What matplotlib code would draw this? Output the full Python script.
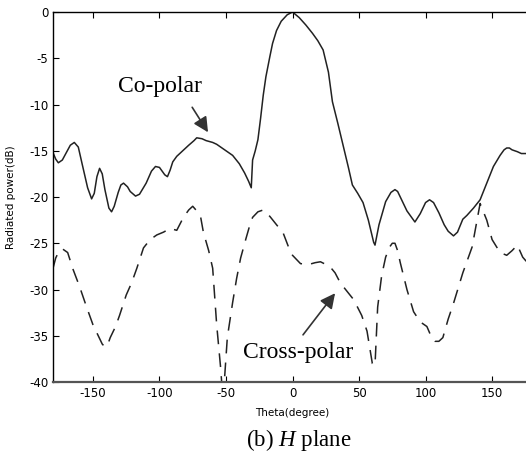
import numpy as np
import matplotlib
matplotlib.use("Agg")
import matplotlib.pyplot as plt

plt.rcParams["axes.unicode_minus"] = False
plt.rcParams["mathtext.fontset"] = "custom"
plt.rcParams["mathtext.rm"] = "Liberation Serif"
plt.rcParams["mathtext.it"] = "Liberation Serif:italic"

# co-polar trace (degree, dB)
co_theta = [-180, -178, -176, -173, -170, -167, -164, -161, -158, -154, -151, -149, -147, -145, -143,
            -141, -138, -136, -134, -131, -129, -127, -124, -122, -118, -115, -110, -106, -103, -100,
            -98, -96, -94, -92, -90, -87, -84, -78, -74, -72, -68, -65, -60, -57, -53, -50, -45, -40,
            -36, -33, -31, -30, -28, -26, -24, -22, -20, -17, -15, -12, -8.5, -4, 0, 5, 10, 15, 19, 23, 27,
            30, 34, 38, 42, 45, 49, 53, 57, 61, 62, 65, 70, 74, 77, 79, 81, 86, 92, 96, 100, 103,
            106, 110, 114, 117, 121, 124, 128, 131, 136, 141, 146, 151, 156, 159, 161, 163, 165, 169, 172, 176]
co_db = [-15.2, -15.9, -16.3, -16.0, -15.2, -14.4, -14.1, -14.6, -16.5, -19.0, -20.2, -19.6, -17.8, -16.9, -17.5,
         -19.2, -21.2, -21.6, -21.0, -19.5, -18.7, -18.5, -18.9, -19.4, -19.9, -19.7, -18.5, -17.2, -16.7, -16.8,
         -17.2, -17.6, -17.8, -17.1, -16.2, -15.6, -15.2, -14.4, -13.9, -13.6, -13.7, -13.9, -14.1, -14.3, -14.7, -15.0, -15.5, -16.4,
         -17.4, -18.3, -19.0, -16.0, -15.0, -13.8, -11.5, -9.0, -7.0, -4.8, -3.4, -2.0, -1.0, -0.3, 0.0, -0.6, -1.4, -2.3, -3.1, -4.1, -6.5,
         -9.7, -12.0, -14.4, -16.8, -18.7, -19.6, -20.6, -22.5, -24.9, -25.2, -23.0, -20.5, -19.5, -19.2, -19.4, -20.0, -21.5, -22.7, -21.8, -20.6, -20.3,
         -20.6, -21.7, -23.0, -23.7, -24.2, -23.8, -22.4, -22.0, -21.2, -20.3, -18.5, -16.7, -15.5, -14.9, -14.7, -14.7, -14.9, -15.1, -15.3, -15.3]

# cross-polar trace (degree, dB)
cx_theta = [-180, -178, -176, -173, -169, -165, -160, -155, -150, -145, -143, -141, -139, -137, -133, -130, -125,
            -121, -117, -112, -107, -102, -97, -92, -87, -82, -78, -75, -72, -69, -67, -63,
            -60, -57, -54, -53, -51.5, -49, -45, -42, -39, -35, -32, -30, -26, -22, -17, -12,
            -7, -3, 0, 6, 12, 17, 21, 28, 32, 36, 41, 46, 52, 56, 60, 62, 64, 67, 70,
            73, 75, 77, 79, 81, 86, 91, 96, 101, 104, 107, 110, 113, 117, 121, 128, 135, 141, 146, 150, 156,
            161, 165, 169, 173, 176]
cx_db = [-27.7, -26.6, -26.0, -25.6, -26.0, -27.8, -29.7, -31.8, -33.8, -35.3, -35.9, -36.2, -36.0, -35.2, -34.0, -32.8, -30.6,
         -29.3, -27.7, -25.5, -24.6, -24.1, -23.8, -23.4, -23.6, -22.2, -21.4, -21.0, -21.5, -22.2, -23.8, -25.8,
         -27.7, -33.8, -38.5, -40.5, -40.5, -35.2, -31.4, -28.8, -26.6, -24.5, -23.0, -22.2, -21.6, -21.4, -22.1, -23.0,
         -23.9, -25.4, -26.3, -27.2, -27.3, -27.1, -27.0, -27.5, -28.2, -29.3, -30.2, -31.1, -32.8, -34.5, -38.0, -38.2, -31.9, -28.5, -26.5,
         -25.4, -25.0, -25.0, -25.8, -27.1, -30.0, -32.4, -33.5, -34.0, -35.0, -35.6, -35.6, -35.2, -33.2, -31.5, -28.2, -25.4, -20.7, -22.5, -24.6, -26.0,
         -26.3, -25.8, -25.2, -26.5, -27.0]

fig = plt.figure(figsize=(5.26, 4.55), dpi=100)
ax = fig.add_axes([0.1008, 0.1604, 0.9106, 0.8132])

ax.plot(co_theta, co_db, color="#222222", lw=1.1)
ax.plot(cx_theta, cx_db, color="#222222", lw=1.1, dashes=(9, 6))

ax.set_xlim(-180, 180)
ax.set_ylim(-40, 0)
ax.set_xticks([-150, -100, -50, 0, 50, 100, 150])
ax.set_yticks([0, -5, -10, -15, -20, -25, -30, -35, -40])
ax.tick_params(direction="in", length=4, labelsize=8.5, top=True, right=True)
for sp in ax.spines.values():
    sp.set_linewidth(1.0)
ax.spines["bottom"].set_color("#555555")
ax.spines["bottom"].set_linewidth(1.6)

ax.set_ylabel("Radiated power(dB)", fontsize=7.5, labelpad=9)
ax.set_xlabel("Theta(degree)", fontsize=7.5, labelpad=6)

serif = "Liberation Serif"
arrow = dict(arrowstyle="-|>,head_length=0.9,head_width=0.45",
             color="#333333", lw=1.2, shrinkA=0, shrinkB=0, facecolor="#2f3d4a")
ax.annotate("", xy=(-63.5, -13.0), xytext=(-75.4, -10.3), arrowprops=arrow)
ax.text(-100, -8.1, "Co-polar", fontsize=17, family=serif, ha="center", va="center")
ax.annotate("", xy=(32, -30.4), xytext=(7.9, -34.9), arrowprops=arrow)
ax.text(4, -36.8, "Cross-polar", fontsize=17, family=serif, ha="center", va="center")

fig.text(299 / 526, 1 - 440 / 455, "(b) $\\it{H}$ plane", fontsize=16.5, family=serif,
         ha="center", va="center")

fig.savefig("out.png", dpi=100)
